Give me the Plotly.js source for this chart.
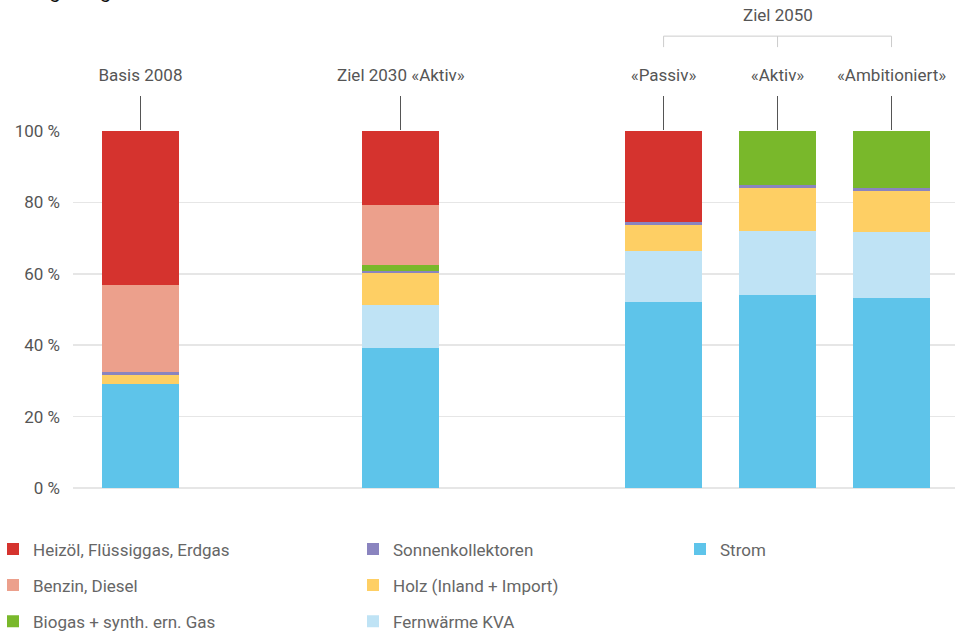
<!DOCTYPE html>
<html>
<head>
<meta charset="utf-8">
<script src="https://cdn.plot.ly/plotly-3.0.1.min.js"></script>
<style>html,body{margin:0;padding:0;background:#fff;}#chart{width:955px;height:632px;}</style>
</head>
<body>
<div id="chart"></div>
<script>
// ---- data ----
const categories = ['Basis 2008', 'Ziel 2030 «Aktiv»', '«Passiv»', '«Aktiv»', '«Ambitioniert»'];
const xPos = [0, 2.285, 4.59, 5.59, 6.59];
const strom      = [29.0, 39.3, 52.2, 54.1, 53.3];
const fernwaerme = [0.0, 12.0, 14.2, 17.9, 18.4];
const holz       = [2.7, 9.0, 7.3, 12.1, 11.5];
const sonnen     = [0.9, 0.5, 0.8, 0.8, 0.9];
const biogas     = [0.0, 1.7, 0.0, 15.1, 15.9];
const benzin     = [24.3, 16.8, 0.0, 0.0, 0.0];
const heizoel    = [43.1, 20.7, 25.5, 0.0, 0.0];
const yTicks = [0, 20, 40, 60, 80, 100];
const yTickText = yTicks.map(v => v + ' %');
const groupLabel = 'Ziel 2050';
const chartTitle = 'Energieträger';

const series = [
  {name: 'Strom', y: strom, color: '#5ec4ea', legend: 'legend3', rank: 1},
  {name: 'Fernwärme KVA', y: fernwaerme, color: '#bfe3f5', legend: 'legend2', rank: 3},
  {name: 'Holz (Inland + Import)', y: holz, color: '#fecf64', legend: 'legend2', rank: 2},
  {name: 'Sonnenkollektoren', y: sonnen, color: '#8a84bf', legend: 'legend2', rank: 1},
  {name: 'Biogas + synth. ern. Gas', y: biogas, color: '#79b82b', legend: 'legend', rank: 3},
  {name: 'Benzin, Diesel', y: benzin, color: '#eca08c', legend: 'legend', rank: 2},
  {name: 'Heizöl, Flüssiggas, Erdgas', y: heizoel, color: '#d5332e', legend: 'legend', rank: 1}
];

const traces = series.map(s => ({
  type: 'bar', x: xPos, y: s.y, name: s.name, width: 0.675,
  marker: {color: s.color, line: {width: 0}},
  legend: s.legend, legendgroup: s.name, legendrank: s.rank, hoverinfo: 'skip'
}));

// pixel helpers for decorations (plot area: top 131, bottom 488.5)
const pyTop = 131, pyBot = 488.5;
const py = p => (pyBot - p) / (pyBot - pyTop);

const g0 = xPos[2], g1 = xPos[3], g2 = xPos[4];
const lineStyle = {color: '#cccccc', width: 1};
const shapes = [
  {type: 'line', xref: 'x', yref: 'paper', x0: g0, x1: g2, y0: py(36), y1: py(36), line: lineStyle},
  {type: 'line', xref: 'x', yref: 'paper', x0: g0, x1: g0, y0: py(36), y1: py(47), line: lineStyle},
  {type: 'line', xref: 'x', yref: 'paper', x0: g1, x1: g1, y0: py(36), y1: py(47), line: lineStyle},
  {type: 'line', xref: 'x', yref: 'paper', x0: g2, x1: g2, y0: py(36), y1: py(47), line: lineStyle}
];

const fam = 'Roboto, "Noto Sans", sans-serif';
const font = {family: fam, size: 17, color: '#555'};
const legendBase = {
  orientation: 'v', xanchor: 'left', yanchor: 'top', y: py(532),
  font: {family: fam, size: 17, color: '#666'},
  traceorder: 'grouped', tracegroupgap: 11, bgcolor: 'rgba(0,0,0,0)'
};

const layout = {
  width: 955, height: 632,
  margin: {l: 73, r: 0, t: 131, b: 143.5, autoexpand: false},
  paper_bgcolor: '#fff', plot_bgcolor: '#fff',
  font: font,
  barmode: 'stack',
  showlegend: true,
  xaxis: {
    side: 'top', range: [-0.592, 7.147], tickvals: xPos, ticktext: categories,
    ticks: 'outside', ticklen: 34, tickcolor: '#555', tickwidth: 1,
    ticklabelstandoff: 8,
    showgrid: false, zeroline: false, showline: false, fixedrange: true,
    tickfont: {family: fam, size: 17, color: '#555'}
  },
  yaxis: {
    range: [0, 100], tickvals: yTicks, ticktext: yTickText,
    showgrid: true, gridcolor: '#e6e6e6', gridwidth: 1.5,
    zeroline: true, zerolinecolor: '#e6e6e6', zerolinewidth: 1.5,
    showline: false, ticks: '', ticklabelstandoff: 12, fixedrange: true,
    tickfont: {family: fam, size: 17, color: '#555'}
  },
  legend: Object.assign({}, legendBase, {x: (-7 - 73) / 882}),
  legend2: Object.assign({}, legendBase, {x: (353 - 73) / 882}),
  legend3: Object.assign({}, legendBase, {x: (680 - 73) / 882}),
  shapes: shapes,
  annotations: [
    {text: groupLabel, xref: 'x', yref: 'paper', x: g1, y: py(15), showarrow: false,
     font: {family: fam, size: 17, color: '#555'}, xanchor: 'center', yanchor: 'middle'},
    {text: chartTitle, xref: 'paper', yref: 'paper', x: (8 - 73) / 882, y: py(5), showarrow: false,
     font: {family: fam, size: 20, color: '#111'}, xanchor: 'left', yanchor: 'bottom'}
  ]
};

Plotly.newPlot('chart', traces, layout, {displayModeBar: false, staticPlot: true});
</script>
</body>
</html>
